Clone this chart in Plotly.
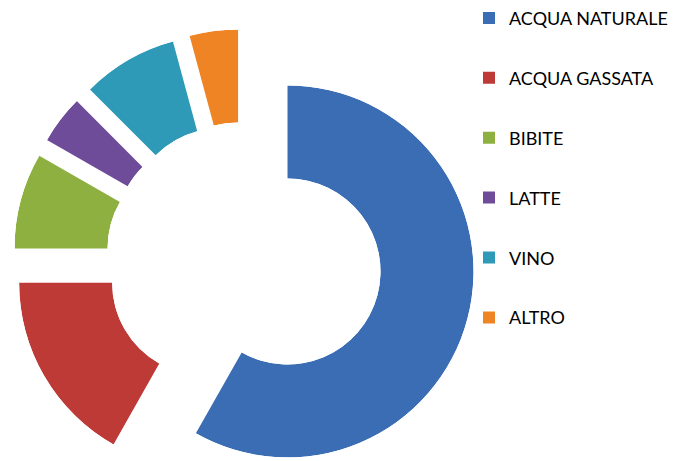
import numpy as np
import plotly.graph_objects as go

# beverage consumption shares (%)
labels = ["ACQUA NATURALE", "ACQUA GASSATA", "BIBITE", "LATTE", "VINO", "ALTRO"]
values = [58.2, 16.8, 8.3, 4.2, 8.3, 4.2]
colors = ["#3a6db3", "#bd3a37", "#8db041", "#6e4c99", "#2f9ab7", "#ef8425"]

W, H = 677, 461
CX, CY = 236, 252      # ring centre before explosion, px from top-left of the figure
R_OUT = 186            # outer radius, px
HOLE = 0.5
PULL = 45              # explosion distance, px


def sector_bbox(s0, s1):
    """Same box plotly uses for a polar sector (unit circle, origin included)."""
    arc = s1 - s0
    a0 = s0 % 360
    a1 = a0 + arc
    c0, d0 = np.cos(np.radians(a0)), np.sin(np.radians(a0))
    c1, d1 = np.cos(np.radians(a1)), np.sin(np.radians(a1))
    if (a0 <= 90 <= a1) or (a0 > 90 and a1 >= 450):
        y1 = 1
    elif d0 <= 0 and d1 <= 0:
        y1 = 0
    else:
        y1 = max(d0, d1)
    if (a0 <= 180 <= a1) or (a0 > 180 and a1 >= 540):
        x0 = -1
    elif c0 >= 0 and c1 >= 0:
        x0 = 0
    else:
        x0 = min(c0, c1)
    if (a0 <= 270 <= a1) or (a0 > 270 and a1 >= 630):
        y0 = -1
    elif d0 >= 0 and d1 >= 0:
        y0 = 0
    else:
        y0 = min(d0, d1)
    if a1 >= 360:
        x1 = 1
    elif c0 <= 0 and c1 <= 0:
        x1 = 0
    else:
        x1 = max(c0, c1)
    return x0, y0, x1, y1


total = float(sum(values))
widths = np.array(values) / total * 360.0
starts = np.concatenate([[0.0], np.cumsum(widths)[:-1]])
mids = starts + widths / 2

fig = go.Figure()
polars = {}
for i, (lab, val, col, w, s, m) in enumerate(zip(labels, values, colors, widths, starts, mids)):
    # every slice sits in its own polar subplot, shifted along its bisector
    a = np.radians(m)
    sx = CX + PULL * np.sin(a)
    sy = H - (CY - PULL * np.cos(a))          # paper y, from the bottom
    # sector in plotly's math angles (ccw from east), a bit wider than the slice
    sec = [90 - (s + w) - 0.5, 90 - s + 0.5]
    x0, y0, x1, y1 = sector_bbox(*sec)
    key = "polar" if i == 0 else f"polar{i + 1}"
    fig.add_trace(go.Barpolar(
        r=[1], theta=[m], width=[w],
        subplot=key,
        name=lab, legendgroup=lab,
        marker=dict(color=col, line=dict(width=0)),
        customdata=[val],
        hovertemplate=f"<b>{lab}</b><br>%{{customdata:.1f}}%<extra></extra>",
    ))
    polars[key] = dict(
        domain=dict(x=[(sx + R_OUT * x0) / W, (sx + R_OUT * x1) / W],
                    y=[(sy + R_OUT * y0) / H, (sy + R_OUT * y1) / H]),
        sector=sec,
        hole=HOLE,
        bgcolor="rgba(0,0,0,0)",
        angularaxis=dict(visible=False, rotation=90, direction="clockwise"),
        radialaxis=dict(visible=False, range=[0, 1]),
    )

# legend: entries of (font*1.3 + 3) px, LEG_GAP px between groups, 10 px padding;
# anchored by its bottom so its top padding may sit just above the edge
LEG_FONT, LEG_GAP = 18, 33.5
item_h = LEG_FONT * 1.3 + 3
leg_h = len(labels) * item_h + (len(labels) - 1) * LEG_GAP + 10
leg_top = 10 - (item_h / 2 + 5)          # first entry centred 10 px below the top

fig.update_layout(
    width=W, height=H,
    margin=dict(l=0, r=0, t=0, b=0, autoexpand=False),
    paper_bgcolor="white",
    showlegend=True,
    legend=dict(
        x=461 / W, xanchor="left",
        y=(H - (leg_top + leg_h)) / H, yanchor="bottom",
        traceorder="grouped", tracegroupgap=LEG_GAP,
        font=dict(family="Lato", size=LEG_FONT, color="#000000"),
        bgcolor="rgba(0,0,0,0)",
    ),
    **polars,
)

fig.write_html("out.html")
